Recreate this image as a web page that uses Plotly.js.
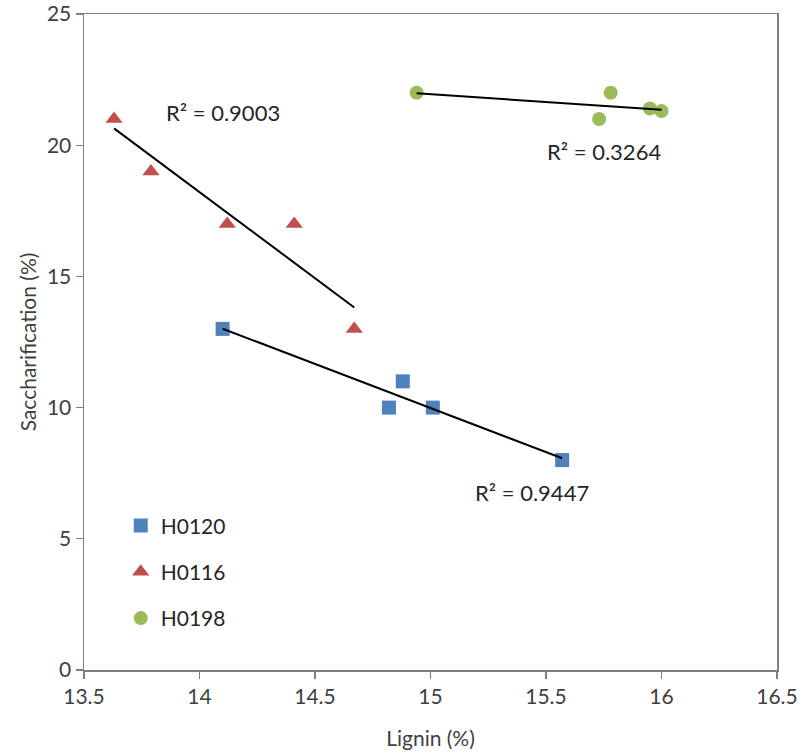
<!DOCTYPE html>
<html>
<head>
<meta charset="utf-8">
<script src="https://cdn.plot.ly/plotly-3.0.1.min.js"></script>
<style>body{margin:0;background:#fff}#chart{width:800px;height:756px}</style>
</head>
<body>
<div id="chart"></div>
<script>
// Data
const seriesNames = ['H0120', 'H0116', 'H0198'];
const ligninH0120 = [14.10, 14.82, 14.88, 15.01, 15.57];
const saccH0120   = [13, 10, 11, 10, 8];
const ligninH0116 = [13.63, 13.79, 14.12, 14.41, 14.67];
const saccH0116   = [21, 19, 17, 17, 13];
const ligninH0198 = [14.94, 15.78, 15.73, 15.95, 16.00];
const saccH0198   = [22, 22, 21, 21.4, 21.3];
const r2Labels = ['R\u00b2 = 0.9447', 'R\u00b2 = 0.9003', 'R\u00b2 = 0.3264'];
const r2LabelX = [15.44, 14.10, 15.75];
const r2LabelY = [6.75, 21.25, 19.75];

const colors = ['#4F81BD', '#C0504D', '#9BBB59'];
const symbols = ['square', 'triangle-up', 'circle'];
const sizes = [14, 15, 14];
const xs = [ligninH0120, ligninH0116, ligninH0198];
const ys = [saccH0120, saccH0116, saccH0198];

function fit(x, y) {
  const n = x.length;
  const mx = x.reduce((a, b) => a + b, 0) / n;
  const my = y.reduce((a, b) => a + b, 0) / n;
  let sxy = 0, sxx = 0;
  for (let i = 0; i < n; i++) { sxy += (x[i] - mx) * (y[i] - my); sxx += (x[i] - mx) ** 2; }
  const m = sxy / sxx;
  const b = my - m * mx;
  const x0 = Math.min(...x), x1 = Math.max(...x);
  return { x: [x0, x1], y: [m * x0 + b, m * x1 + b] };
}

const font = 'Lato, "Open Sans", sans-serif';
const fs = 21;
const traces = [];
for (let i = 0; i < 3; i++) {
  traces.push({
    x: xs[i], y: ys[i], type: 'scatter', mode: 'markers', name: seriesNames[i],
    legendgroup: seriesNames[i],
    marker: { color: colors[i], symbol: symbols[i], size: sizes[i] }
  });
}
for (let i = 0; i < 3; i++) {
  const f = fit(xs[i], ys[i]);
  traces.push({
    x: f.x, y: f.y, type: 'scatter', mode: 'lines', showlegend: false,
    line: { color: '#000', width: 2 }, hoverinfo: 'skip'
  });
}

const annotations = r2Labels.map((t, i) => ({
  x: r2LabelX[i], y: r2LabelY[i], xref: 'x', yref: 'y', text: t,
  showarrow: false, font: { family: font, size: 22, color: '#262626' }
}));

const axisCommon = {
  showgrid: false, zeroline: false, showline: true, linecolor: '#7f7f7f', linewidth: 1.5,
  mirror: true, ticks: 'outside', ticklen: 7, tickcolor: '#7f7f7f', tickwidth: 1.2,
  ticklabeloverflow: 'allow',
  tickfont: { family: font, size: fs, color: '#404040' }
};

const layout = {
  width: 800, height: 756,
  margin: { l: 84, r: 23, t: 14, b: 86 },
  paper_bgcolor: '#fff', plot_bgcolor: '#fff',
  xaxis: Object.assign({}, axisCommon, {
    range: [13.5, 16.5], dtick: 0.5, tick0: 13.5,
    title: { text: 'Lignin (%)', font: { family: font, size: fs, color: '#404040' }, standoff: 24 }
  }),
  yaxis: Object.assign({}, axisCommon, {
    range: [0, 25], dtick: 5, tick0: 0,
    title: { text: 'Saccharification (%)', font: { family: font, size: fs, color: '#404040' }, standoff: 4 }
  }),
  showlegend: true,
  legend: {
    x: 0.053, y: 0.251, xanchor: 'left', yanchor: 'top',
    traceorder: 'grouped', tracegroupgap: 16, itemwidth: 30,
    font: { family: font, size: fs, color: '#262626' },
    bgcolor: 'rgba(0,0,0,0)'
  },
  annotations: annotations
};

Plotly.newPlot('chart', traces, layout, { displayModeBar: false, staticPlot: true });
</script>
</body>
</html>
